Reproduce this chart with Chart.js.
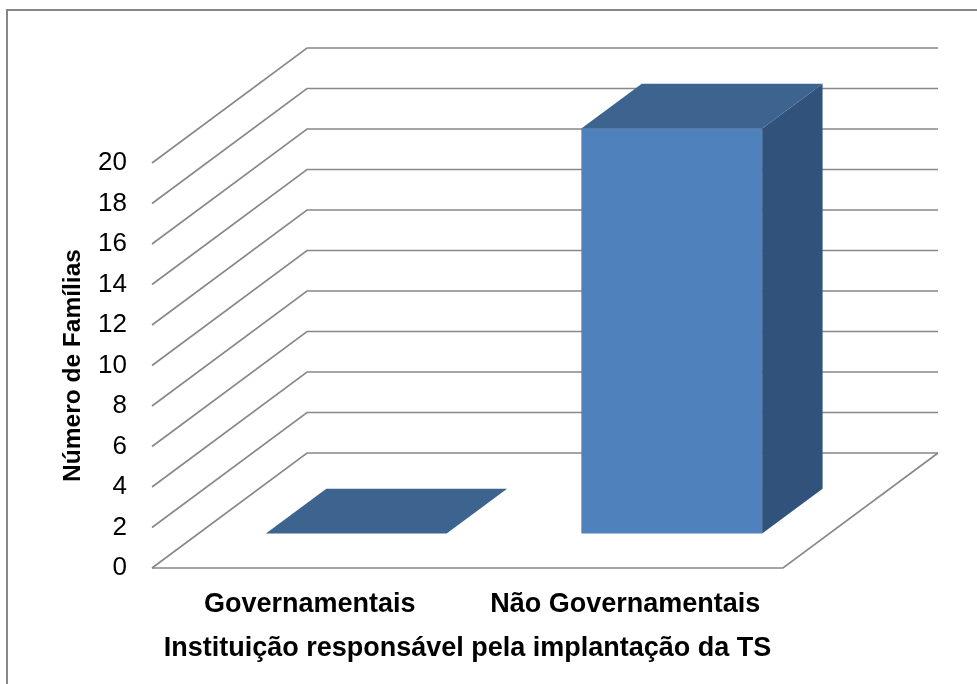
<!DOCTYPE html>
<html>
<head>
<meta charset="utf-8">
<script src="https://cdn.jsdelivr.net/npm/chart.js@4.4.0/dist/chart.umd.min.js"></script>
<style>
  body { margin: 0; background: #fff; }
</style>
</head>
<body>
<canvas id="chart" width="977" height="684"></canvas>
<script>
const categories = ['Governamentais', 'Não Governamentais']
const familias = [0, 20]
const yTicks = [0, 2, 4, 6, 8, 10, 12, 14, 16, 18, 20]
const yTitle = 'Número de Famílias'
const xTitle = 'Instituição responsável pela implantação da TS'

// 3d look: how far the back wall sits from the front plane
const depth = { x: 155, y: -115 }
const barFront = 0.3
const barBack = 0.69
const gridColor = '#888888'
const frontColor = '#4f81bd'
const topColor = '#3d638f'
const sideColor = '#31537b'

const ctx = document.getElementById('chart')

// draws the walls, floor and the boxes for each bar
const fake3d = {
    id: 'fake3d',
    beforeDraw(chart) {
        const c = chart.ctx
        c.save()
        c.fillStyle = '#fff'
        c.fillRect(0, 0, chart.width, chart.height)
        c.strokeStyle = '#878787'
        c.lineWidth = 2
        c.strokeRect(7, 10, chart.width + 20, chart.height + 20)
        c.restore()
    },
    beforeDatasetsDraw(chart) {
        const c = chart.ctx
        const { left, right } = chart.chartArea
        const y = chart.scales.y
        c.save()
        c.strokeStyle = gridColor
        c.lineWidth = 1.6
        yTicks.forEach((v) => {
            const py = y.getPixelForValue(v)
            c.beginPath()
            c.moveTo(left, py)
            c.lineTo(left + depth.x, py + depth.y)
            c.lineTo(right + depth.x, py + depth.y)
            c.stroke()
        })
        // floor front edge and right edge
        const base = y.getPixelForValue(0)
        c.beginPath()
        c.moveTo(left, base)
        c.lineTo(right, base)
        c.lineTo(right + depth.x, base + depth.y)
        c.stroke()
        c.restore()
    },
    afterDatasetsDraw(chart) {
        const c = chart.ctx
        const meta = chart.getDatasetMeta(0)
        const fx = depth.x * barFront, fy = depth.y * barFront
        const dx = depth.x * (barBack - barFront), dy = depth.y * (barBack - barFront)
        c.save()
        meta.data.forEach((bar) => {
            const half = bar.width / 2
            const l = bar.x - half + fx, r = bar.x + half + fx
            const t = bar.y + fy, b = bar.base + fy
            if (b - t > 0.5) {
                c.fillStyle = sideColor
                c.beginPath()
                c.moveTo(r, t)
                c.lineTo(r + dx, t + dy)
                c.lineTo(r + dx, b + dy)
                c.lineTo(r, b)
                c.closePath()
                c.fill()
                c.fillStyle = frontColor
                c.fillRect(l, t, r - l, b - t)
            }
            c.fillStyle = topColor
            c.beginPath()
            c.moveTo(l, t)
            c.lineTo(l + dx, t + dy)
            c.lineTo(r + dx, t + dy)
            c.lineTo(r, t)
            c.closePath()
            c.fill()
        })
        c.restore()
    }
}

const font = 'Liberation Sans, Arial, sans-serif'

const chart = new Chart(ctx, {
    type: 'bar',
    data: {
        labels: categories,
        datasets: [{
            label: yTitle,
            data: familias,
            backgroundColor: 'rgba(0,0,0,0)',
            categoryPercentage: 1,
            barPercentage: 0.573
        }]
    },
    options: {
        responsive: false,
        animation: false,
        layout: { padding: { top: 163, right: 194, left: 0, bottom: 0 } },
        plugins: { legend: { display: false }, tooltip: { enabled: false } },
        scales: {
            x: {
                grid: { display: false, drawTicks: false },
                border: { display: false },
                ticks: { color: '#000', font: { family: font, size: 27, weight: 'bold' }, padding: 20 },
                title: { display: true, text: xTitle, color: '#000', font: { family: font, size: 27, weight: 'bold' }, padding: { top: 0, bottom: 19 } },
                afterFit: (scale) => { scale.height = 116 }
            },
            y: {
                min: 0,
                max: 20,
                grid: { display: false, drawTicks: false },
                border: { display: false },
                afterBuildTicks: (scale) => { scale.ticks = yTicks.map((v) => ({ value: v })) },
                ticks: { color: '#000', font: { family: font, size: 26 }, padding: 25 },
                title: { display: true, text: yTitle, color: '#000', font: { family: font, size: 24.5, weight: 'bold' }, padding: { top: 59, bottom: 0 } },
                afterFit: (scale) => { scale.width = 152 }
            }
        }
    },
    plugins: [fake3d]
})
</script>
</body>
</html>
